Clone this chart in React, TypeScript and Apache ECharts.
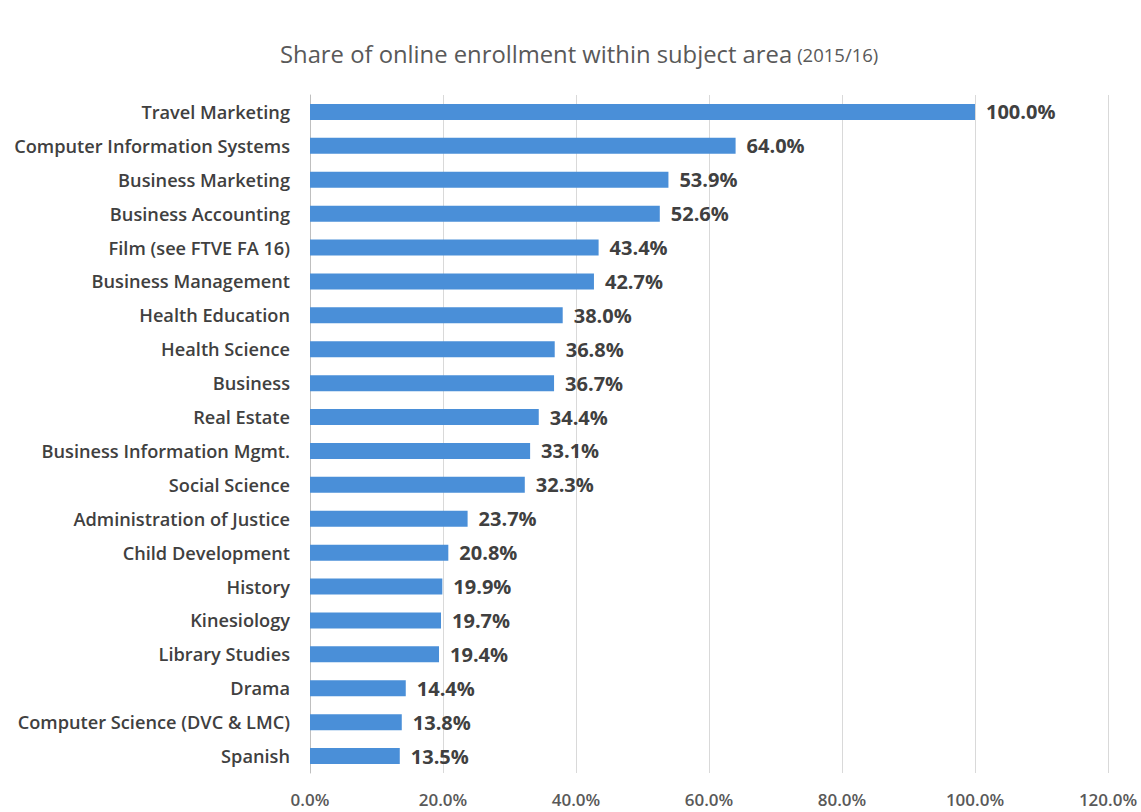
import React, { useEffect, useRef } from "react";
import * as echarts from "echarts";

const categories = [
  "Travel Marketing",
  "Computer Information Systems",
  "Business Marketing",
  "Business Accounting",
  "Film (see FTVE FA 16)",
  "Business Management",
  "Health Education",
  "Health Science",
  "Business",
  "Real Estate",
  "Business Information Mgmt.",
  "Social Science",
  "Administration of Justice",
  "Child Development",
  "History",
  "Kinesiology",
  "Library Studies",
  "Drama",
  "Computer Science (DVC & LMC)",
  "Spanish",
];

const values = [
  100.0, 64.0, 53.9, 52.6, 43.4, 42.7, 38.0, 36.8, 36.7, 34.4, 33.1, 32.3, 23.7,
  20.8, 19.9, 19.7, 19.4, 14.4, 13.8, 13.5,
];

const titleMain = "Share of online enrollment within subject area";
const titleSub = "(2015/16)";

export default function App() {
  const ref = useRef<HTMLDivElement>(null);
  useEffect(() => {
    if (!ref.current) return;
    const chart = echarts.init(ref.current, null, { renderer: "svg" });
    const font = "'Open Sans', 'Noto Sans', sans-serif";
    chart.setOption({
      animation: false,
      backgroundColor: "#ffffff",
      title: {
        text: `{a|${titleMain}} {b|${titleSub}}`,
        left: 275,
        top: 37,
        textStyle: {
          fontWeight: "normal",
          rich: {
            a: { fontFamily: font, fontSize: 23.8, fontWeight: "normal", color: "#595959" },
            b: { fontFamily: font, fontSize: 18.5, fontWeight: "normal", color: "#595959" },
          },
        },
      },
      grid: { left: 310, right: 33, top: 95, bottom: 39, containLabel: false },
      xAxis: {
        type: "value",
        min: 0,
        max: 120,
        interval: 20,
        axisLine: { show: false },
        axisTick: { show: false },
        splitLine: { lineStyle: { color: "#d9d9d9", width: 1 } },
        axisLabel: {
          formatter: (v: number) => v.toFixed(1) + "%",
          fontFamily: font,
          fontSize: 17,
          fontWeight: 600,
          color: "#595959",
          margin: 18,
        },
      },
      yAxis: {
        type: "category",
        data: categories,
        inverse: true,
        axisLine: { show: true, lineStyle: { color: "#bfbfbf" } },
        axisTick: { show: false },
        axisLabel: {
          fontFamily: font,
          fontSize: 18.2,
          fontWeight: 600,
          color: "#404040",
          margin: 20,
        },
      },
      series: [
        {
          type: "bar",
          data: values,
          barWidth: 16,
          itemStyle: { color: "#4a8fd8" },
          label: {
            show: true,
            position: "right",
            distance: 11,
            formatter: (p: any) => Number(p.value).toFixed(1) + "%",
            fontFamily: font,
            fontSize: 20,
            fontWeight: "bold",
            color: "#404040",
          },
        },
      ],
    });
    return () => chart.dispose();
  }, []);
  return (
    <div
      ref={ref}
      style={{ position: "fixed", left: 0, top: 0, width: 1141, height: 812 }}
    />
  );
}
